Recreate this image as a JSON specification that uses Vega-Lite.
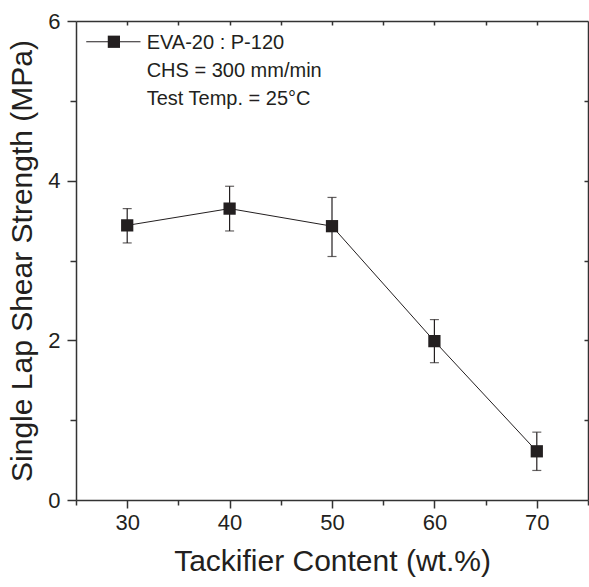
{
  "$schema": "https://vega.github.io/schema/vega-lite/v6.json",
  "autosize": "none",
  "width": 512,
  "height": 479,
  "padding": {"left": 76, "top": 21, "right": 1, "bottom": 87},
  "background": "white",
  "config": {
    "view": {"stroke": null},
    "font": "Liberation Sans",
    "axis": {
      "domainColor": "#333333",
      "domainWidth": 1.5,
      "tickColor": "#333333",
      "tickWidth": 1.5,
      "grid": false,
      "labelFont": "Liberation Sans",
      "labelFontSize": 22,
      "labelColor": "#231f20",
      "titleFont": "Liberation Sans",
      "titleFontSize": 30,
      "titleFontWeight": "normal",
      "titleColor": "#231f20"
    }
  },
  "data": {
    "values": [
      {"content": 30, "strength": 3.44, "lo": 3.22, "hi": 3.65},
      {"content": 40, "strength": 3.65, "lo": 3.37, "hi": 3.93},
      {"content": 50, "strength": 3.43, "lo": 3.05, "hi": 3.79},
      {"content": 60, "strength": 1.99, "lo": 1.72, "hi": 2.26},
      {"content": 70, "strength": 0.61, "lo": 0.37, "hi": 0.85}
    ]
  },
  "resolve": {"axis": {"x": "independent", "y": "independent"}},
  "layer": [
    {
      "mark": {"type": "rule", "color": "#231f20", "strokeWidth": 1.2},
      "encoding": {
        "x": {
          "field": "content", "type": "quantitative",
          "scale": {"domain": [25, 75], "nice": false, "zero": false},
          "axis": {
            "orient": "bottom",
            "values": [25, 30, 35, 40, 45, 50, 55, 60, 65, 70, 75],
            "labelExpr": "(datum.value % 10 === 0) ? datum.label : ''",
            "tickSize": {"condition": {"test": "datum.value % 10 === 0", "value": 8}, "value": 5},
            "labelPadding": 4,
            "title": "Tackifier Content (wt.%)",
            "titlePadding": 13
          }
        },
        "y": {
          "field": "lo", "type": "quantitative",
          "scale": {"domain": [0, 6], "nice": false},
          "axis": {
            "orient": "left",
            "values": [0, 1, 2, 3, 4, 5, 6],
            "labelExpr": "(datum.value % 2 === 0) ? datum.label : ''",
            "tickSize": {"condition": {"test": "datum.value % 2 === 0", "value": 9}, "value": 6},
            "labelPadding": 7,
            "title": "Single Lap Shear Strength (MPa)",
            "titlePadding": 10
          }
        },
        "y2": {"field": "hi"}
      }
    },
    {
      "mark": {"type": "tick", "orient": "horizontal", "size": 9, "thickness": 1.2, "color": "#231f20"},
      "encoding": {
        "x": {"field": "content", "type": "quantitative", "axis": null},
        "y": {"field": "lo", "type": "quantitative", "axis": null}
      }
    },
    {
      "mark": {"type": "tick", "orient": "horizontal", "size": 9, "thickness": 1.2, "color": "#231f20"},
      "encoding": {
        "x": {"field": "content", "type": "quantitative", "axis": null},
        "y": {"field": "hi", "type": "quantitative", "axis": null}
      }
    },
    {
      "mark": {"type": "line", "color": "#231f20", "strokeWidth": 1},
      "encoding": {
        "x": {"field": "content", "type": "quantitative", "axis": null},
        "y": {"field": "strength", "type": "quantitative", "axis": null}
      }
    },
    {
      "mark": {"type": "point", "shape": "square", "filled": true, "color": "#231f20", "opacity": 1, "size": 150},
      "encoding": {
        "x": {"field": "content", "type": "quantitative", "axis": null},
        "y": {"field": "strength", "type": "quantitative", "axis": null}
      }
    },
    {
      "mark": {"type": "point", "opacity": 0},
      "encoding": {
        "x": {"field": "content", "type": "quantitative",
          "axis": {"orient": "top", "values": [30, 35, 40, 45, 50, 55, 60, 65, 70], "labels": false, "tickSize": -4, "title": null}},
        "y": {"field": "strength", "type": "quantitative",
          "axis": {"orient": "right", "values": [1, 2, 3, 4, 5], "labels": false, "tickSize": -4, "title": null}}
      }
    },
    {
      "data": {"values": [{"series": "EVA-20 : P-120"}]},
      "layer": [
        {
          "mark": {"type": "rule", "color": "#231f20", "strokeWidth": 1},
          "encoding": {
            "x": {"datum": 26.0, "type": "quantitative", "axis": null},
            "x2": {"datum": 31.3},
            "y": {"datum": 5.74, "type": "quantitative", "axis": null}
          }
        },
        {
          "mark": {"type": "point", "shape": "square", "filled": true, "color": "#231f20", "opacity": 1, "size": 150},
          "encoding": {
            "x": {"datum": 28.7, "type": "quantitative", "axis": null},
            "y": {"datum": 5.74, "type": "quantitative", "axis": null}
          }
        },
        {
          "mark": {"type": "text", "align": "left", "baseline": "middle", "fontSize": 20, "color": "#231f20", "font": "Liberation Sans"},
          "encoding": {
            "x": {"datum": 31.9, "type": "quantitative", "axis": null},
            "y": {"datum": 5.72, "type": "quantitative", "axis": null},
            "text": {"field": "series"}
          }
        },
        {
          "mark": {"type": "text", "align": "left", "baseline": "middle", "fontSize": 20, "color": "#231f20", "font": "Liberation Sans"},
          "encoding": {
            "x": {"datum": 31.9, "type": "quantitative", "axis": null},
            "y": {"datum": 5.37, "type": "quantitative", "axis": null},
            "text": {"value": "CHS = 300 mm/min"}
          }
        },
        {
          "mark": {"type": "text", "align": "left", "baseline": "middle", "fontSize": 20, "color": "#231f20", "font": "Liberation Sans"},
          "encoding": {
            "x": {"datum": 31.9, "type": "quantitative", "axis": null},
            "y": {"datum": 5.02, "type": "quantitative", "axis": null},
            "text": {"value": "Test Temp. = 25°C"}
          }
        }
      ]
    }
  ]
}
